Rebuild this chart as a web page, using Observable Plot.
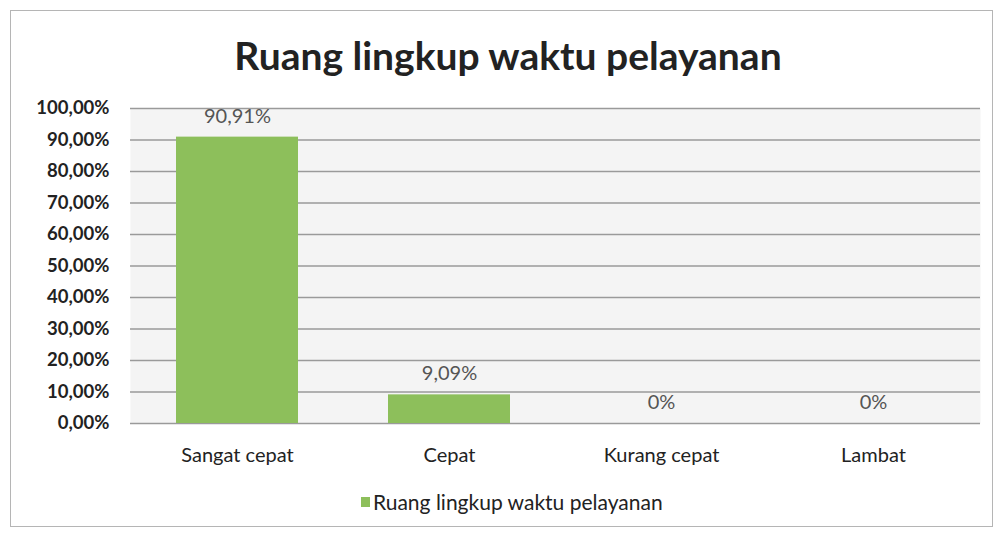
<!DOCTYPE html>
<html>
<head>
<meta charset="utf-8">
<script src="https://cdn.jsdelivr.net/npm/d3@7"></script>
<script src="https://cdn.jsdelivr.net/npm/@observablehq/plot@0.6"></script>
<style>
  body { margin: 0; background: #fff; font-family: Lato, "Open Sans", sans-serif; }
  #frame { position: absolute; left: 10px; top: 10px; width: 983px; height: 517px; border: 1px solid #b5b5b5; box-sizing: border-box; }
  #title { position: absolute; left: 0; top: 30px; width: 1016px; text-align: center; font-size: 39px; font-weight: 700; color: #222; line-height: 50px; }
  #chart { position: absolute; left: 0; top: 90px; }
  #legend { position: absolute; left: 361px; top: 489px; font-size: 21px; color: #222; display: flex; align-items: center; }
  #legend .sw { width: 9px; height: 10px; background: #8dbf5b; margin-right: 3px; }
</style>
</head>
<body>
<div id="frame"></div>
<div id="title">Ruang lingkup waktu pelayanan</div>
<div id="chart"></div>
<div id="legend"><span class="sw"></span><span>Ruang lingkup waktu pelayanan</span></div>
<script>
const categories = ["Sangat cepat", "Cepat", "Kurang cepat", "Lambat"];
const values = [90.91, 9.09, 0, 0];
const valueLabels = ["90,91%", "9,09%", "0%", "0%"];
const yTicks = [0, 10, 20, 30, 40, 50, 60, 70, 80, 90, 100];

const data = categories.map((c, i) => ({ cat: c, v: values[i], label: valueLabels[i] }));
const fmt = d => d.toFixed(2).replace(".", ",") + "%";

const chart = Plot.plot({
  width: 1000,
  height: 380,
  marginLeft: 130,
  marginRight: 20,
  marginTop: 18,
  marginBottom: 47,
  style: { fontFamily: "Lato, 'Open Sans', sans-serif", background: "transparent" },
  x: { domain: categories, paddingInner: 0.426, paddingOuter: 0.213, label: null },
  y: { domain: [0, 100], label: null },
  marks: [
    Plot.frame({ fill: "#f4f4f4", stroke: null }),
    Plot.ruleY(yTicks, { stroke: "#9a9a9a", strokeWidth: 1.4 }),
    Plot.barY(data, { x: "cat", y: "v", fill: "#8dbf5b" }),
    Plot.text(data, { x: "cat", y: "v", text: "label", dy: -21, fontSize: 20, fill: "#555" }),
    Plot.axisY({ ticks: yTicks, tickFormat: fmt, tickSize: 0, tickPadding: 21, fontSize: 18.5, fontWeight: 700, fill: "#222", label: null }),
    Plot.axisX({ tickSize: 0, tickPadding: 24, fontSize: 20, fill: "#222", label: null })
  ]
});
document.getElementById("chart").appendChild(chart);
</script>
</body>
</html>
